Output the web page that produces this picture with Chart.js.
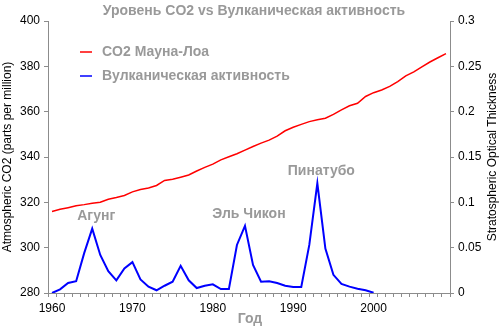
<!DOCTYPE html>
<html>
<head>
<meta charset="utf-8">
<script src="https://cdn.jsdelivr.net/npm/chart.js@4.4.1/dist/chart.umd.min.js"></script>
<style>
  html, body { margin: 0; padding: 0; background: #fff; }
  #wrap { width: 500px; height: 331px; position: relative; }
</style>
</head>
<body>
<div id="wrap"><canvas id="chart"></canvas></div>
<script>
// ---- data ----
const years = [1960, 1961, 1962, 1963, 1964, 1965, 1966, 1967, 1968, 1969,
               1970, 1971, 1972, 1973, 1974, 1975, 1976, 1977, 1978, 1979,
               1980, 1981, 1982, 1983, 1984, 1985, 1986, 1987, 1988, 1989,
               1990, 1991, 1992, 1993, 1994, 1995, 1996, 1997, 1998, 1999,
               2000, 2001, 2002, 2003, 2004, 2005, 2006, 2007, 2008, 2009];

// CO2, ppm
const co2 = [315.97, 316.91, 317.64, 318.45, 318.99, 319.62, 320.04, 321.38, 322.16, 323.04,
             324.62, 325.68, 326.32, 327.45, 329.68, 330.18, 331.11, 332.04, 333.83, 335.40,
             336.84, 338.75, 340.11, 341.45, 343.05, 344.65, 346.12, 347.42, 349.19, 351.57,
             353.12, 354.39, 355.61, 356.45, 357.10, 358.83, 360.82, 362.61, 363.73, 366.70,
             368.38, 369.55, 371.14, 373.28, 375.80, 377.52, 379.80, 381.90, 383.79, 385.60];

// stratospheric optical thickness (1960-2000)
const volcanic = [0.000, 0.004, 0.011, 0.013, 0.044, 0.071, 0.042, 0.024, 0.014, 0.027,
                  0.034, 0.015, 0.007, 0.003, 0.008, 0.0125, 0.030, 0.014, 0.0055, 0.008,
                  0.0096, 0.0044, 0.0044, 0.053, 0.074, 0.031, 0.0125, 0.013, 0.011, 0.008,
                  0.0066, 0.0066, 0.053, 0.121, 0.049, 0.020, 0.010, 0.007, 0.0047, 0.003,
                  0.0003];

const co2Ticks = [280, 300, 320, 340, 360, 380, 400];
const volcTicks = [0, 0.05, 0.1, 0.15, 0.2, 0.25, 0.3];

const eruptions = ['Агунг', 'Эль Чикон', 'Пинатубо'];
const eruptionYears = [1965, 1984, 1993];

const seriesNames = ['CO2 Мауна-Лоа', 'Вулканическая активность'];
const titleText = 'Уровень CO2 vs Вулканическая активность';

const FONT = 'Arial, "Liberation Sans", sans-serif';
const GRAY = '#999999';
const AXIS = '#8c8c8c';

// texts drawn by hand: title, legend, axis titles, eruption names
const extrasPlugin = {
    id: 'extras',
    afterDraw(chart) {
        const ctx = chart.ctx;
        const area = chart.chartArea;
        const x = chart.scales.x;
        const y2 = chart.scales.y2;
        ctx.save();

        // title
        ctx.fillStyle = GRAY;
        ctx.font = 'bold 14px ' + FONT;
        ctx.textAlign = 'center';
        ctx.textBaseline = 'middle';
        ctx.fillText(titleText, 254, 11);

        // legend inside plot
        const colors = ['#ff0000', '#0000ff'];
        ctx.font = 'bold 14px ' + FONT;
        ctx.textAlign = 'left';
        seriesNames.forEach((name, i) => {
            const ly = 52 + i * 24;
            ctx.strokeStyle = colors[i];
            ctx.lineWidth = 1.5;
            ctx.beginPath();
            ctx.moveTo(80, ly);
            ctx.lineTo(92, ly);
            ctx.stroke();
            ctx.fillStyle = GRAY;
            ctx.fillText(name, 102, ly);
        });

        // eruption labels above their peaks
        ctx.textAlign = 'center';
        ctx.textBaseline = 'middle';
        eruptions.forEach((name, i) => {
            const idx = years.indexOf(eruptionYears[i]);
            const px = x.getPixelForValue(idx);
            const py = y2.getPixelForValue(volcanic[idx]);
            ctx.fillText(name, px + 4, py - 12);
        });

        // x axis title
        ctx.font = 'bold 14px ' + FONT;
        ctx.fillText('Год', 250, 319);

        // y axis titles (both read bottom to top)
        ctx.fillStyle = '#000';
        ctx.font = '12px ' + FONT;
        const midY = (area.top + area.bottom) / 2;
        ctx.translate(8, midY);
        ctx.rotate(-Math.PI / 2);
        ctx.fillText('Atmospheric CO2 (parts per million)', 0, 0);
        ctx.rotate(Math.PI / 2);
        ctx.translate(-8, -midY);
        ctx.translate(493, midY);
        ctx.rotate(-Math.PI / 2);
        ctx.fillText('Stratospheric Optical Thickness', 0, 0);
        ctx.restore();
    }
};

const ctx = document.getElementById('chart').getContext('2d');
new Chart(ctx, {
    type: 'line',
    data: {
        labels: years,
        datasets: [{
            label: seriesNames[0],
            data: co2,
            borderColor: '#ff0000',
            borderWidth: 1.5,
            pointRadius: 0,
            tension: 0,
            yAxisID: 'y'
        }, {
            label: seriesNames[1],
            data: volcanic,
            borderColor: '#0000ff',
            borderWidth: 2,
            pointRadius: 0,
            tension: 0,
            yAxisID: 'y2'
        }]
    },
    options: {
        responsive: true,
        maintainAspectRatio: false,
        animation: false,
        devicePixelRatio: 1,
        layout: { padding: { top: 21, left: 0, right: 0, bottom: 0 } },
        plugins: {
            legend: { display: false },
            title: { display: false },
            tooltip: { enabled: false }
        },
        scales: {
            x: {
                type: 'category',
                offset: true,
                grid: { offset: true, drawOnChartArea: false, tickLength: 4, color: AXIS },
                border: { color: AXIS },
                ticks: {
                    autoSkip: false,
                    maxRotation: 0,
                    color: '#000',
                    padding: 4,
                    font: { size: 12, family: FONT },
                    callback: (v, i) => years[i] % 10 === 0 ? String(years[i]) : ''
                },
                afterFit: s => { s.height = 38; }
            },
            y: {
                position: 'left',
                min: 280,
                max: 400,
                afterBuildTicks: s => { s.ticks = co2Ticks.map(v => ({ value: v })); },
                grid: { drawOnChartArea: false, tickLength: 4, color: AXIS },
                border: { color: AXIS },
                ticks: { color: '#000', padding: 4, font: { size: 12, family: FONT } },
                afterFit: s => { s.width = 48; }
            },
            y2: {
                position: 'right',
                min: 0,
                max: 0.3,
                afterBuildTicks: s => { s.ticks = volcTicks.map(v => ({ value: v })); },
                grid: { drawOnChartArea: false, tickLength: 4, color: AXIS },
                border: { color: AXIS },
                ticks: {
                    color: '#000', padding: 4, font: { size: 12, family: FONT },
                    callback: v => String(+v.toFixed(2))
                },
                afterFit: s => { s.width = 50; }
            }
        }
    },
    plugins: [extrasPlugin]
});
</script>
</body>
</html>
